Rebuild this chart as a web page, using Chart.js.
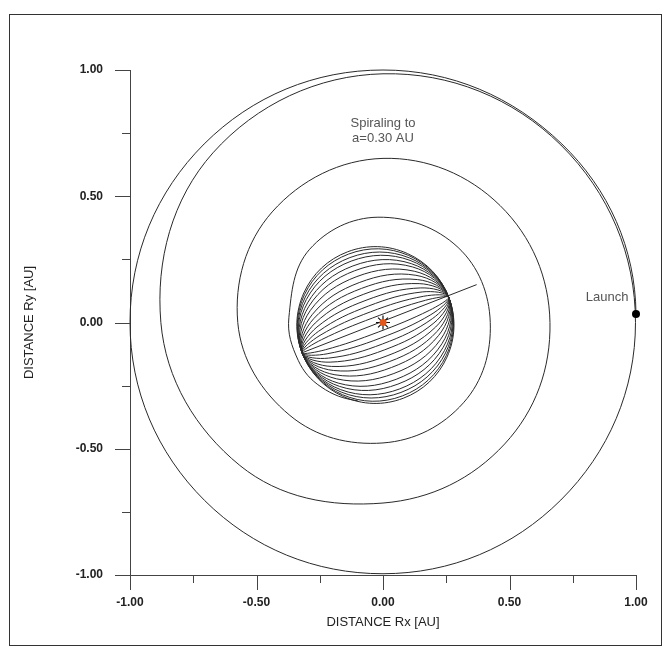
<!DOCTYPE html>
<html>
<head>
<meta charset="utf-8">
<script src="https://cdn.jsdelivr.net/npm/chart.js@4.4.1/dist/chart.umd.min.js"></script>
<style>
    html, body { margin: 0; padding: 0; background: #fff; }
    #wrap { width: 669px; height: 655px; }
</style>
</head>
<body>
<div id="wrap"><canvas id="orbit_chart" width="669" height="655"></canvas></div>
<script>
// axis ticks (AU)
var majorTicks = [-1.0, -0.5, 0.0, 0.5, 1.0];
var minorTicks = [-0.75, -0.25, 0.25, 0.75];

// spiral from launch at 1 AU in to a = 0.30 AU (every ~45 deg).
// the first point sits on the closing loop below launch and is only a lead-in
var spiralX = [0.72, 1.00, 0.707, 0.00, -0.707, -1.00, -0.705, 0.00, 0.703, 0.998,
               0.703, 0.00, -0.672, -0.878, -0.566, 0.00, 0.481, 0.660,
               0.463, 0.00, -0.438, -0.574, -0.368, 0.00, 0.318, 0.424,
               0.297, -0.02, -0.29, -0.372, -0.335, -0.245, -0.10, 0.08];
var spiralY = [-0.69, 0.034, 0.707, 1.00, 0.707, 0.00, -0.705, -0.995, -0.703, 0.00,
               0.703, 0.985, 0.672, 0.00, -0.566, -0.715, -0.481, 0.00,
               0.463, 0.650, 0.438, 0.00, -0.368, -0.477, -0.318, 0.00,
               0.297, 0.417, 0.29, 0.02, -0.15, -0.255, -0.31, -0.30];

// inclined 0.30 AU orbits seen from above: each one passes both nodes
var nodeL = [-0.32, -0.12];
var nodeR = [0.26, 0.10];
// upper halves (3 points each, left to right)
var lensUpX = [
    [-0.313, -0.140, 0.097], [-0.310, -0.136, 0.100], [-0.307, -0.131, 0.104],
    [-0.303, -0.126, 0.107], [-0.298, -0.119, 0.112], [-0.293, -0.112, 0.117],
    [-0.287, -0.103, 0.124], [-0.280, -0.094, 0.130], [-0.274, -0.085, 0.136],
    [-0.268, -0.076, 0.143], [-0.261, -0.067, 0.149], [-0.255, -0.058, 0.155],
    [-0.249, -0.050, 0.161], [-0.243, -0.041, 0.168]];
var lensUpY = [
    [0.117, 0.280, 0.273], [0.111, 0.271, 0.266], [0.101, 0.257, 0.256],
    [0.091, 0.243, 0.246], [0.078, 0.224, 0.233], [0.064, 0.205, 0.220],
    [0.048, 0.182, 0.203], [0.031, 0.158, 0.187], [0.015, 0.135, 0.170],
    [-0.002, 0.112, 0.154], [-0.018, 0.088, 0.137], [-0.035, 0.065, 0.121],
    [-0.051, 0.042, 0.104], [-0.068, 0.018, 0.088]];
// lower halves
var lensLoX = [
    [-0.157, 0.080, 0.253], [-0.160, 0.076, 0.250], [-0.164, 0.071, 0.247],
    [-0.167, 0.066, 0.243], [-0.172, 0.059, 0.238], [-0.177, 0.052, 0.233],
    [-0.184, 0.043, 0.227], [-0.190, 0.034, 0.220], [-0.196, 0.025, 0.214],
    [-0.203, 0.016, 0.208], [-0.209, 0.007, 0.201], [-0.215, -0.002, 0.195],
    [-0.221, -0.011, 0.189], [-0.228, -0.019, 0.183]];
var lensLoY = [
    [-0.293, -0.300, -0.137], [-0.286, -0.291, -0.131], [-0.276, -0.277, -0.121],
    [-0.266, -0.263, -0.111], [-0.253, -0.244, -0.098], [-0.240, -0.225, -0.084],
    [-0.223, -0.202, -0.068], [-0.207, -0.178, -0.051], [-0.190, -0.155, -0.035],
    [-0.174, -0.132, -0.018], [-0.157, -0.108, -0.002], [-0.141, -0.085, 0.015],
    [-0.124, -0.062, 0.031], [-0.108, -0.038, 0.048]];

var nodeLineX = [-0.32, 0.37];
var nodeLineY = [-0.12, 0.15];

var sunPos = [0.0, 0.0];
var launchPos = [1.0, 0.034];

// notes on the plot
var noteText = ['Spiraling to', 'a=0.30 AU', 'Launch'];
var noteX = [0.0, 0.0, 0.97];
var noteY = [0.79, 0.73, 0.10];
var noteAlign = ['center', 'center', 'right'];

var INK = '#2a2a2a';

function pts(xs, ys) {
    return xs.map(function (x, i) { return {x: x, y: ys[i]}; });
}

// hide the given segments (lead-in / overlap pieces that only shape the curve)
function lineSet(data, hidden) {
    hidden = hidden || [];
    return {
        data: data,
        showLine: true,
        borderColor: INK,
        borderWidth: 1,
        pointRadius: 0,
        tension: 0.38,
        fill: false,
        segment: {
            borderColor: function (c) {
                return hidden.indexOf(c.p0DataIndex) >= 0 ? 'rgba(0,0,0,0)' : undefined;
            }
        }
    };
}

// one closed orbit, run a little past its start so every drawn piece is smooth
function orbitLoop(i) {
    var L = {x: nodeL[0], y: nodeL[1]}, R = {x: nodeR[0], y: nodeR[1]};
    var up = pts(lensUpX[i], lensUpY[i]);
    var lo = pts(lensLoX[i], lensLoY[i]);
    return [lo[2], R, up[2], up[1], up[0], L, lo[0], lo[1], lo[2], R, up[2]];
}

var datasets = [
    {data: [{x: sunPos[0], y: sunPos[1]}], pointStyle: 'circle', pointRadius: 3.5,
     backgroundColor: '#e2571c', borderWidth: 0},
    {data: [{x: sunPos[0], y: sunPos[1]}], pointStyle: 'star', pointRadius: 7,
     borderColor: '#111', borderWidth: 1.2},
    {data: [{x: launchPos[0], y: launchPos[1]}], pointStyle: 'circle', pointRadius: 4,
     backgroundColor: '#000', borderWidth: 0, clip: false}
];

var spiral = lineSet(pts(spiralX, spiralY), [0, spiralX.length - 2]);
spiral.clip = false;
datasets.push(spiral);

var nodeSet = lineSet(pts(nodeLineX, nodeLineY));
nodeSet.tension = 0;
datasets.push(nodeSet);

for (var i = 0; i < lensUpX.length; i++) {
    datasets.push(lineSet(orbitLoop(i), [0, 9]));
}

var allTicks = majorTicks.concat(minorTicks).sort(function (a, b) { return a - b; });

function isMajor(v) {
    return majorTicks.some(function (m) { return Math.abs(m - v) < 1e-9; });
}

var decor = {
    id: 'decor',
    beforeDraw: function (chart) {
        var ctx = chart.ctx;
        ctx.save();
        ctx.fillStyle = '#fff';
        ctx.fillRect(0, 0, chart.width, chart.height);
        ctx.strokeStyle = '#333';
        ctx.lineWidth = 1;
        ctx.strokeRect(9.5, 14.5, 652, 631);
        ctx.restore();
    },
    afterDraw: function (chart) {
        var ctx = chart.ctx, xs = chart.scales.x, ys = chart.scales.y, a = chart.chartArea;
        ctx.save();
        ctx.strokeStyle = '#444';
        ctx.lineWidth = 1;
        ctx.beginPath();
        allTicks.forEach(function (v) {
            var len = isMajor(v) ? 15 : 8;
            var px = Math.round(xs.getPixelForValue(v)) + 0.5;
            ctx.moveTo(px, a.bottom);
            ctx.lineTo(px, a.bottom + len);
            var py = Math.round(ys.getPixelForValue(v)) + 0.5;
            ctx.moveTo(a.left, py);
            ctx.lineTo(a.left - len, py);
        });
        ctx.stroke();

        ctx.fillStyle = '#555';
        ctx.font = '13px Arial, "Liberation Sans", sans-serif';
        ctx.textBaseline = 'middle';
        for (var k = 0; k < noteText.length; k++) {
            ctx.textAlign = noteAlign[k];
            ctx.fillText(noteText[k], xs.getPixelForValue(noteX[k]), ys.getPixelForValue(noteY[k]));
        }
        ctx.restore();
    }
};

function axis(title, width, height, pad) {
    return {
        type: 'linear',
        min: -1,
        max: 1,
        afterBuildTicks: function (s) {
            s.ticks = allTicks.map(function (v) { return {value: v}; });
        },
        afterFit: function (s) {
            if (width) s.width = width;
            if (height) s.height = height;
        },
        grid: {display: false, drawTicks: true, tickLength: 15},
        border: {display: true, color: '#444', width: 1},
        ticks: {
            autoSkip: false,
            maxRotation: 0,
            padding: pad,
            color: '#222',
            font: {size: 12, weight: 'bold'},
            callback: function (v) { return isMajor(v) ? v.toFixed(2) : ''; }
        },
        title: {display: true, text: title, color: '#222', font: {size: 13}}
    };
}

Chart.defaults.font.family = 'Arial, "Liberation Sans", sans-serif';

new Chart(document.getElementById('orbit_chart').getContext('2d'), {
    type: 'scatter',
    data: {datasets: datasets},
    options: {
        responsive: false,
        animation: false,
        events: [],
        layout: {padding: {left: 18, right: 33, top: 70, bottom: 21}},
        plugins: {legend: {display: false}, tooltip: {enabled: false}},
        scales: {
            x: axis('DISTANCE Rx [AU]', 0, 59, 5),
            y: axis('DISTANCE Ry [AU]', 112, 0, 12)
        }
    },
    plugins: [decor]
});
</script>
</body>
</html>
